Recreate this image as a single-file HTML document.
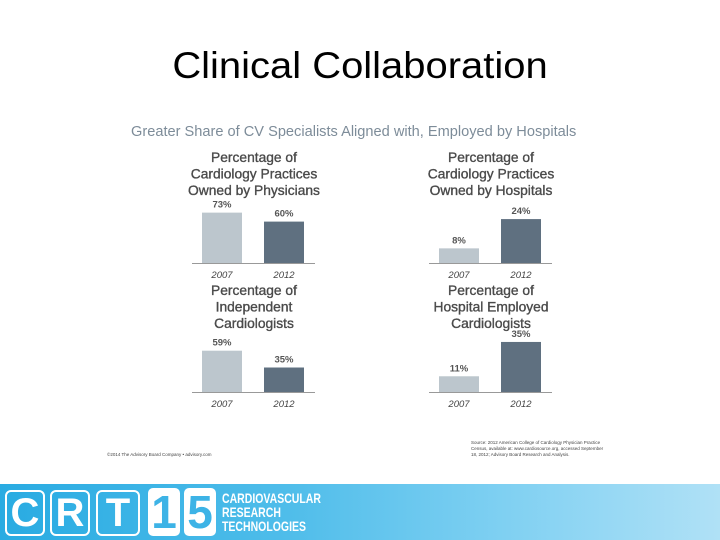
<!DOCTYPE html>
<html><head><meta charset="utf-8"><style>
body{margin:0;width:720px;height:540px;background:#fff;position:relative;overflow:hidden;font-family:"Liberation Sans",sans-serif}
.t{position:absolute;white-space:nowrap}
.bx{position:absolute;top:3px;height:42px;border:2px solid #fff;border-radius:6px;color:#fff;font:bold 40px/42px 'Liberation Sans Narrow','Liberation Sans',sans-serif;text-align:center}
.wb{position:absolute;top:1px;height:48px;background:#fff;border-radius:5px;font:bold 46px/48px 'Liberation Sans Narrow','Liberation Sans',sans-serif;text-align:center;color:#3db3e6}
</style></head><body>
<div class="t" style="left:0;width:720px;text-align:center;top:45px;font-size:37px;color:#000;font-family:'Liberation Sans Narrow','Liberation Sans',sans-serif;transform:scaleX(1.08);transform-origin:360px 0;">Clinical Collaboration</div>
<div class="t" style="left:131px;top:124px;font-size:14.6px;color:#7d8c99;">Greater Share of CV Specialists Aligned with, Employed by Hospitals</div>
<svg id="c" width="720" height="540" style="position:absolute;left:0;top:0"></svg>
<div class="t" style="left:107px;top:452px;font-size:4.5px;color:#444;">©2014 The Advisory Board Company • advisory.com</div>
<div class="t" style="left:471px;top:440px;font-size:4.5px;color:#444;line-height:6px;">Source: 2012 American College of Cardiology Physician Practice<br>Census, available at: www.cardiosource.org, accessed September<br>18, 2012; Advisory Board Research and Analysis.</div>
<div style="position:absolute;left:0;top:484px;width:720px;height:56px;background:linear-gradient(90deg,#29abe2 0%,#4fbdea 40%,#7fd0f2 70%,#b0e1f6 100%);"></div>
<div style="position:absolute;left:0;top:487px;width:330px;height:50px;">
<div class="bx" style="left:5px;width:36px">C</div>
<div class="bx" style="left:50px;width:36px">R</div>
<div class="bx" style="left:96px;width:40px">T</div>
<div class="wb" style="left:148px;width:32px">1</div>
<div class="wb" style="left:184px;width:32px">5</div>
<div style="position:absolute;left:222px;top:4px;color:#fff;font:bold 14px/14px 'Liberation Sans Narrow','Liberation Sans',sans-serif;white-space:nowrap;transform:scaleX(0.75);transform-origin:0 0">CARDIOVASCULAR<br>RESEARCH<br>TECHNOLOGIES</div>
</div>
<script>
const titles=[["Percentage of","Cardiology Practices","Owned by Physicians"],["Percentage of","Cardiology Practices","Owned by Hospitals"],["Percentage of","Independent","Cardiologists"],["Percentage of","Hospital Employed","Cardiologists"]];
const years=["2007","2012"];
const v2007=[73,8,59,11];
const v2012=[60,24,35,35];
const layout=[{x:202,base:263,k:0.69,ty:162},{x:439,base:263,k:1.83,ty:162},{x:202,base:392,k:0.70,ty:295},{x:439,base:392,k:1.43,ty:295}];
const svg=document.getElementById('c');const NS='http://www.w3.org/2000/svg';
function el(t,a,txt){const e=document.createElementNS(NS,t);for(const k in a)e.setAttribute(k,a[k]);if(txt!==undefined)e.textContent=txt;svg.appendChild(e);return e;}
layout.forEach((L,i)=>{
 const cx=L.x+52;
 titles[i].forEach((s,j)=>{const t=el('text',{x:cx,y:L.ty+j*16.5,'text-anchor':'middle','font-size':13.8,fill:'#4a4a4a',stroke:'#4a4a4a','stroke-width':0.35,'font-family':'Liberation Sans, sans-serif'},s);
 
 });
 const ln=el('line',{x1:L.x-10,x2:L.x+113,y1:L.base+0.5,y2:L.base+0.5,stroke:'#999','stroke-width':1});
 
 
 [v2007[i],v2012[i]].forEach((v,j)=>{
  const bx=L.x+j*62,h=v*L.k;
  const r=el('rect',{x:bx,y:L.base-h,width:40,height:h,fill:j?'#5f7080':'#bcc6cd'});
  
  
  const lb=el('text',{x:bx+20,y:L.base-h-5,'text-anchor':'middle','font-size':9.5,'font-weight':'bold',fill:'#555','font-family':'Liberation Sans, sans-serif'},v+'%');
  
  
  const yl=el('text',{x:bx+20,y:L.base+15,'text-anchor':'middle','font-size':9.5,'font-style':'italic',fill:'#444','font-family':'Liberation Sans, sans-serif'},years[j]);
  
  
 });
});
</script>
</body></html>
